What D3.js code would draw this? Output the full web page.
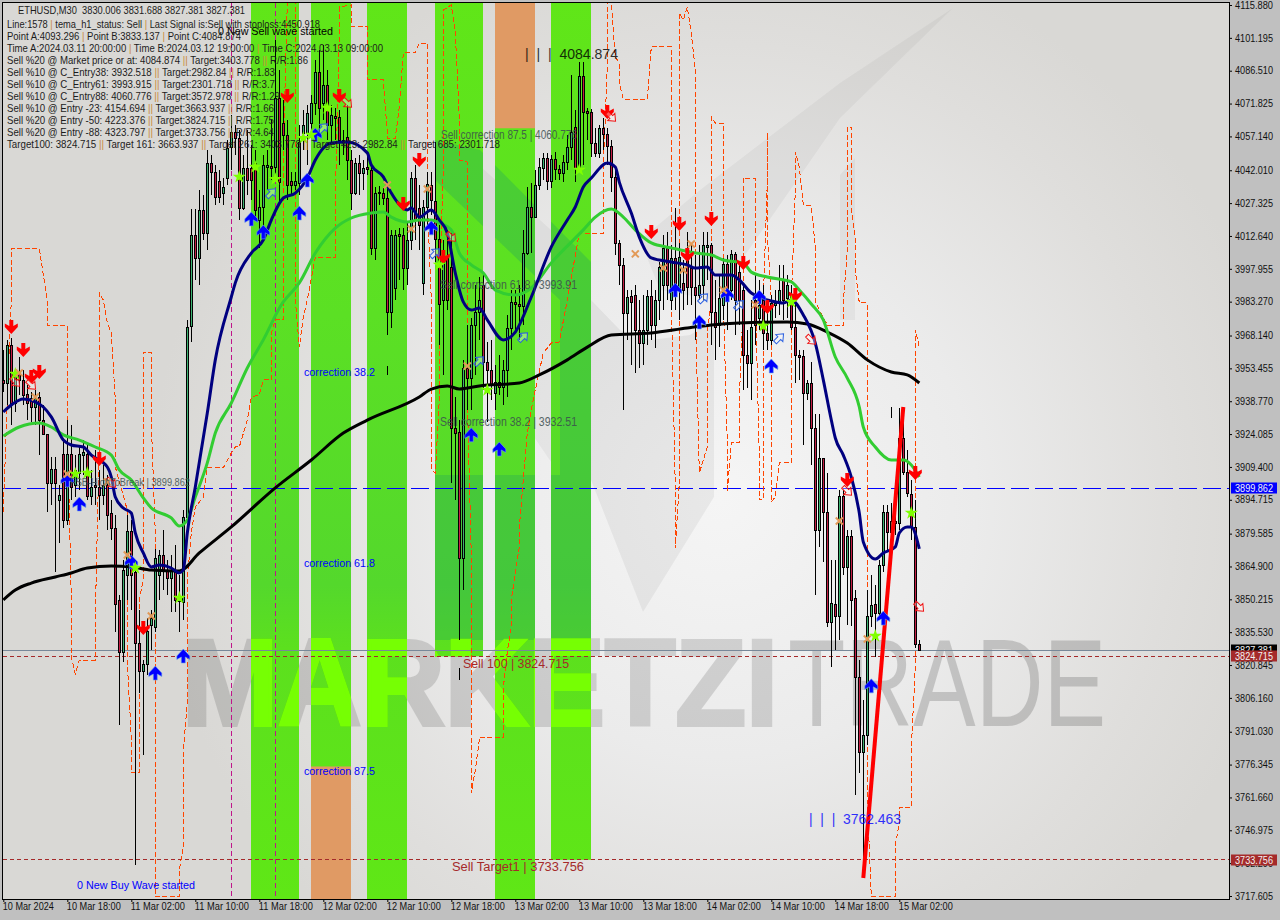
<!DOCTYPE html>
<html>
<head>
<meta charset="utf-8">
<title>ETHUSD,M30</title>
<script src="https://d3js.org/d3.v7.min.js"></script>
<style>
  html, body { margin: 0; background: #c0c0c0; }
  svg { display: block; }
  text { font-family: "Liberation Sans", Arial, sans-serif; }
  .tick line { stroke: #000; }
  .tick text { fill: #111; font-size: 10px; }
</style>
</head>
<body>
<svg id="chart" width="1280" height="920"></svg>
<script>
// candle values, bar by bar
const bodyHigh = [
  3947.5,3963.0,3963.0,3949.7,3951.0,3947.5,3941.2,3939.4,3939.4,3939.9,
  3929.6,3923.4,3907.8,3907.8,3896.2,3914.5,3914.5,3914.5,3907.4,3914.5,
  3915.4,3914.5,3899.8,3900.7,3899.8,3900.7,3900.7,3888.2,3881.5,3849.5,
  3862.8,3880.2,3880.2,3861.9,3830.3,3820.9,3835.7,3841.4,3868.2,3869.5,
  3869.5,3862.8,3862.8,3861.9,3850.4,3886.4,3971.1,4012.0,4012.0,4023.2,
  4023.2,4044.1,4044.1,4040.1,4036.1,4033.4,4050.8,4057.9,4057.9,4055.2,
  4041.9,4041.9,4041.9,4044.1,4024.5,4043.2,4043.2,4042.8,4073.1,4073.1,
  4061.9,4056.6,4036.1,4036.1,4053.4,4061.0,4066.4,4070.8,4084.6,4084.6,
  4078.8,4078.8,4065.5,4065.0,4064.6,4054.3,4055.7,4045.4,4044.1,4044.1,
  4041.9,4042.3,4041.0,4030.7,4031.2,4030.7,4028.5,4012.0,4012.0,4012.5,
  4012.0,4009.8,4037.4,4037.4,4024.1,4024.5,4034.7,4034.3,4027.2,4010.2,
  4000.0,4001.8,3997.8,3926.1,3924.3,3952.8,3952.8,3971.9,3977.7,3983.1,
  3989.8,3955.5,3951.9,3946.6,3946.6,3951.9,3970.6,3982.2,3982.2,3981.3,
  4004.0,4024.5,4024.5,4034.3,4042.3,4046.3,4046.3,4045.9,4045.9,4041.4,
  4044.5,4051.2,4057.9,4060.1,4082.9,4082.9,4067.3,4066.8,4053.0,4059.7,
  4059.7,4057.0,4051.7,4037.9,4008.5,3998.7,3984.4,3984.9,3985.3,3969.7,
  3969.7,3984.9,3984.9,3983.1,3997.8,4006.3,4006.3,4001.8,4001.8,4002.2,
  3990.6,4002.2,3997.3,3988.9,3989.8,4007.6,4007.6,4007.6,3977.7,3984.0,
  3999.1,3999.1,4003.6,4003.6,3995.5,3987.5,3958.6,3971.1,3983.1,3980.9,
  3983.1,3968.4,3981.8,3981.8,3987.5,3992.0,3989.8,3985.3,3971.1,3958.6,
  3958.1,3946.1,3946.1,3926.1,3912.7,3912.7,3888.6,3848.1,3847.7,3895.8,
  3895.8,3877.9,3877.9,3850.4,3815.2,3789.3,3842.3,3847.2,3847.7,3865.0,
  3888.6,3888.6,3884.6,3884.6,3921.6,3921.6,3906.5,3896.7,3882.0,3830.0
];
const bodyLow = [
  3946.2,3946.2,3937.2,3937.2,3947.5,3940.8,3937.2,3935.4,3935.4,3929.6,
  3923.4,3901.6,3901.6,3901.6,3894.0,3885.1,3885.1,3899.8,3900.7,3906.0,
  3914.0,3895.8,3895.8,3899.8,3896.2,3896.2,3887.3,3881.5,3847.7,3826.3,
  3826.3,3860.6,3860.6,3830.3,3817.8,3817.8,3820.9,3838.3,3837.4,3860.6,
  3862.8,3859.3,3859.3,3849.5,3849.0,3848.6,3886.4,3971.5,4001.8,4001.8,
  4012.9,4012.9,4040.1,4029.0,4029.0,4030.7,4037.4,4051.2,4055.2,4024.1,
  4024.1,4036.5,4036.5,4023.2,4018.7,4024.5,4042.3,4041.9,4042.3,4035.6,
  4056.6,4034.3,4034.3,4034.3,4035.2,4057.5,4057.5,4061.9,4070.8,4068.6,
  4070.8,4061.0,4061.0,4064.1,4054.3,4053.4,4045.4,4030.7,4030.7,4039.6,
  4039.6,4041.4,4006.3,4006.3,4030.7,4028.5,3977.7,3977.7,3988.4,4011.6,
  3997.3,3997.3,4009.8,4018.7,4016.5,3990.6,4024.5,4027.6,4010.2,3981.3,
  3983.1,3983.1,3926.1,3923.9,3868.2,3868.2,3948.3,3948.3,3971.9,3977.7,
  3955.5,3951.9,3945.2,3941.7,3944.3,3944.3,3951.9,3970.6,3981.3,3980.4,
  3980.4,4004.0,4020.0,4020.0,4034.3,4041.9,4036.1,4036.1,4041.4,4039.6,
  4039.6,4044.5,4051.2,4041.9,4042.3,4066.8,4066.4,4053.0,4048.6,4048.6,
  4057.0,4051.7,4037.9,4008.5,3998.7,3977.3,3977.3,3982.2,3969.7,3963.9,
  3963.9,3969.7,3971.9,3971.9,3983.1,3989.8,3989.8,3983.1,3989.8,3988.4,
  3987.5,3988.9,3988.9,3985.3,3985.3,3989.8,4006.7,3977.7,3971.1,3972.0,
  3980.9,3983.1,3987.5,3983.1,3983.1,3958.6,3955.0,3955.0,3971.9,3975.1,
  3968.4,3965.3,3965.3,3980.9,3982.2,3983.1,3984.0,3971.1,3958.6,3957.7,
  3941.7,3941.7,3926.1,3880.6,3880.6,3888.6,3839.7,3839.7,3842.3,3842.3,
  3864.2,3864.2,3849.5,3815.2,3781.7,3781.7,3789.3,3842.3,3843.7,3843.7,
  3865.0,3879.7,3879.7,3883.7,3883.7,3906.5,3897.1,3882.0,3830.0,3827.4
];
const wickHigh = [
  3960.8,3965.3,3966.2,3951.9,3957.7,3951.9,3945.2,3942.1,3943.0,3942.1,
  3936.3,3923.4,3913.1,3913.1,3900.7,3920.7,3929.6,3927.4,3914.0,3918.5,
  3920.7,3918.5,3907.4,3916.3,3907.4,3909.6,3905.1,3894.0,3887.3,3851.7,
  3867.3,3887.3,3885.1,3865.0,3845.0,3822.7,3841.4,3845.0,3872.2,3871.7,
  3880.6,3867.3,3869.5,3874.0,3860.6,3889.5,3974.2,4023.6,4023.6,4032.1,
  4029.9,4049.9,4047.7,4043.2,4041.0,4037.4,4054.3,4065.5,4061.0,4058.8,
  4047.7,4058.8,4052.1,4049.9,4032.1,4047.7,4049.9,4063.3,4098.9,4085.5,
  4072.2,4063.3,4040.1,4040.1,4061.0,4067.7,4069.9,4074.4,4090.0,4094.4,
  4096.7,4085.5,4069.9,4068.6,4067.7,4058.8,4069.9,4049.9,4046.3,4047.7,
  4045.4,4047.7,4043.2,4033.4,4033.9,4032.9,4032.9,4014.3,4014.3,4015.2,
  4015.2,4017.8,4040.1,4043.2,4034.3,4027.6,4040.1,4040.1,4053.4,4016.5,
  4009.8,4014.3,4012.9,3939.9,3929.6,3956.4,3971.9,3975.1,3989.8,3993.3,
  3994.2,3964.4,3965.3,3954.1,3958.6,3956.4,3976.4,3987.5,3987.5,3989.8,
  4014.3,4033.4,4035.2,4041.0,4046.3,4048.6,4048.6,4047.7,4049.0,4043.2,
  4047.7,4056.6,4083.3,4067.7,4089.1,4089.1,4068.6,4068.1,4059.7,4061.0,
  4064.1,4059.7,4054.3,4041.0,4009.8,4001.8,3987.5,3987.5,3989.8,3983.1,
  3985.3,3987.5,3992.0,3987.5,4000.0,4012.0,4013.4,4007.6,4024.1,4008.5,
  4000.9,4013.4,4007.6,4003.1,4007.6,4013.4,4013.4,4008.5,3992.0,3994.2,
  4001.8,4003.1,4005.4,4004.5,3998.7,3989.8,3969.7,3983.1,3994.2,3992.0,
  3989.8,3983.1,3985.3,3987.5,3998.7,3998.7,3994.2,3989.8,3983.1,3960.8,
  3960.8,3947.5,3955.5,3932.3,3932.3,3912.7,3906.0,3867.3,3867.3,3898.5,
  3898.5,3880.6,3880.6,3853.9,3822.7,3804.9,3853.9,3860.6,3856.1,3867.3,
  3891.8,3891.8,3892.7,3892.7,3935.0,3935.4,3916.3,3902.9,3894.0,3831.7
];
const wickLow = [
  3942.1,3936.3,3927.4,3933.2,3940.8,3936.3,3929.6,3928.7,3927.4,3914.0,
  3923.0,3888.6,3891.8,3861.9,3874.8,3881.5,3882.9,3894.0,3895.3,3898.5,
  3905.1,3894.0,3891.8,3891.8,3885.1,3891.8,3880.6,3876.2,3835.2,3793.8,
  3821.8,3849.5,3845.0,3731.4,3808.0,3780.4,3816.1,3827.2,3835.2,3849.5,
  3853.9,3851.7,3844.1,3844.1,3835.2,3840.5,3885.1,3964.4,3992.0,3989.8,
  4009.8,4005.4,4029.9,4025.4,4026.3,4025.4,4034.3,4041.0,4047.7,4018.7,
  4023.2,4029.9,4027.6,4018.7,4006.3,4013.4,4032.1,4036.5,4036.5,4025.4,
  4049.9,4027.6,4029.9,4032.1,4029.9,4049.9,4043.2,4056.6,4065.5,4056.6,
  4063.3,4054.3,4052.1,4054.3,4043.2,4047.7,4036.5,4023.2,4029.9,4029.9,
  4032.1,4038.7,4003.1,4000.9,4025.4,4025.4,3967.5,3970.6,3983.1,3992.0,
  3987.5,3989.8,4005.4,4009.8,4005.4,3985.3,4016.5,4020.9,4000.0,3963.0,
  3949.7,3978.6,3901.6,3894.0,3831.6,3853.9,3934.1,3934.1,3949.7,3965.3,
  3943.0,3928.7,3938.5,3934.1,3940.8,3936.3,3939.9,3960.8,3969.7,3965.3,
  3971.9,4003.1,4004.0,4019.6,4032.1,4036.5,4032.1,4032.9,4036.5,4036.5,
  4035.6,4041.0,4045.4,4035.6,4041.0,4043.2,4054.3,4046.8,4046.8,4046.3,
  4049.9,4043.2,4031.2,4003.1,3989.8,3934.1,3965.3,3954.1,3950.6,3952.8,
  3954.1,3963.0,3965.3,3961.7,3974.2,3978.6,3983.1,3978.6,3978.6,3974.2,
  3978.6,3980.9,3980.9,3965.3,3983.1,3983.1,3992.0,3963.0,3956.4,3962.1,
  3974.2,3969.7,3983.1,3967.5,3971.9,3943.0,3943.9,3938.5,3963.0,3969.7,
  3960.8,3960.8,3963.0,3975.1,3976.4,3974.2,3975.1,3969.7,3946.1,3947.5,
  3918.5,3938.5,3909.6,3851.7,3873.1,3866.4,3837.4,3819.6,3827.2,3831.6,
  3860.6,3838.3,3837.9,3762.6,3772.4,3725.6,3784.9,3837.4,3824.1,3840.5,
  3861.9,3871.7,3873.9,3878.4,3880.6,3905.1,3895.3,3876.2,3828.1,3827.4
];
const candleDir = (
  "RGRGRRRRGR" + "RRGRGRGRGG" + "GRGRRGRRRR" + "GGRRRGGGGG" + "RRGRGGGGRG" +
  "RGRRRGGGRR" + "GRRRGGGRGR" + "RRRGGGGGGR" + "GRGRRRRRGR" + "GRRGGRRGGR" +
  "RGGRRGGRRR" + "GRRRRGRGGG" + "RRRGRGGGRR" + "GGRGGGRGRR" + "GGGRGRRRRG" +
  "RRRRRRGRRR" + "GGRGGGRGRG" + "RRRRGGGRRG" + "GRGRRRRGRG" + "RRGGGRGRRR" +
  "RGRRGRRGRG" + "RGRRRGGGRG" + "GRGRGRRRRR").split("");

// indicator lines
const navyBar = [0,2,5,8,10,12,15,17,20,22,26,27,28,30,32,33,35,37,39,42,44,45,46,48,51,53,57,58,62,65,67,70,73,76,78,82,86,91,92,95,97,101,102,104,107,109,111,113,115,117,119,121,125,128,132,137,141,143,145,147,151,153,154,157,159,162,167,171,173,176,178,182,184,187,189,192,195,197,200,203,205,207,208,210,212,214,215,218,220,223,224,226,227,229];
const navyPrice = [3933.2,3936.3,3939.0,3937.7,3935.4,3931.0,3920.7,3918.5,3917.6,3914.0,3908.7,3904.2,3895.3,3890.4,3888.2,3879.3,3870.4,3864.2,3865.0,3863.7,3861.5,3862.8,3879.3,3899.8,3932.7,3956.4,3984.4,3990.7,4004.0,4009.8,4018.7,4028.5,4030.7,4037.4,4045.4,4053.0,4053.4,4048.6,4043.2,4037.9,4030.7,4023.2,4024.1,4020.0,4023.2,4018.7,4012.9,3995.1,3982.2,3978.6,3979.5,3974.2,3965.3,3968.8,3984.4,4006.7,4018.7,4024.5,4033.4,4037.4,4044.1,4042.3,4035.6,4021.8,4011.1,4001.8,4000.0,3998.7,3997.3,3997.8,3994.2,3994.2,3992.0,3986.2,3984.4,3982.6,3981.7,3983.1,3976.4,3963.9,3947.5,3929.6,3921.6,3914.0,3904.2,3888.2,3875.3,3867.7,3870.4,3873.1,3879.3,3882.0,3882.0,3872.2];
const greenBar = [0,4,9,12,15,19,23,27,29,32,35,37,42,44,46,48,51,53,57,61,65,70,71,74,78,83,87,92,95,97,101,104,107,109,112,114,117,120,123,128,132,137,145,148,152,155,158,162,167,173,177,180,185,187,191,197,199,202,205,208,211,214,215,218,222,225,227,229];
const greenPrice = [3922.5,3926.5,3928.3,3926.5,3923.0,3920.7,3917.6,3914.0,3907.4,3902.9,3894.9,3890.4,3886.0,3882.4,3885.1,3895.3,3910.5,3923.8,3937.2,3952.8,3965.3,3982.2,3984.4,3990.7,4004.0,4015.1,4019.6,4021.8,4022.3,4020.0,4017.8,4018.7,4018.7,4017.4,4014.3,4004.0,3998.7,3995.1,3987.5,3985.3,3988.4,3999.6,4014.3,4020.0,4023.6,4020.0,4014.3,4008.5,4006.3,4004.0,4003.1,4000.9,3999.6,3995.5,3993.3,3991.1,3987.5,3981.3,3974.2,3957.7,3948.3,3935.4,3926.5,3917.6,3911.8,3911.8,3909.6,3904.2];
const blackBar = [0,3,7,13,17,21,27,32,37,44,49,57,68,77,85,91,104,107,111,114,119,129,134,141,146,152,162,171,177,184,196,201,206,211,216,222,226,229];
const blackPrice = [3849.5,3853.9,3857.0,3859.7,3861.5,3863.7,3864.6,3864.2,3862.8,3862.4,3870.4,3882.0,3899.4,3911.8,3923.8,3929.6,3939.9,3943.4,3944.8,3943.4,3944.8,3946.1,3949.7,3956.4,3962.1,3967.5,3968.4,3970.6,3971.9,3972.8,3973.3,3972.4,3968.8,3963.9,3956.4,3951.0,3949.7,3946.1];
const orangeBar = [0,1,2,2,2,9,10,11,11,16,16,17,17,18,18,19,23,23,24,24,24,25,26,27,28,28,31,31,32,32,34,34,34,35,35,35,37,37,38,38,38,44,44,45,45,45,45,46,46,46,46,47,48,50,51,55,57,58,59,61,62,64,65,67,67,68,70,70,70,71,73,73,74,75,76,78,83,83,84,84,87,87,87,91,91,95,96,96,98,99,100,103,104,106,106,106,107,107,108,109,109,110,110,112,113,114,114,116,116,116,117,117,117,118,119,119,125,125,125,126,127,127,129,129,131,132,133,135,137,139,141,144,150,150,151,151,152,153,154,154,155,161,162,167,167,167,168,168,169,169,169,169,169,170,171,172,173,173,173,174,176,176,177,177,177,178,180,180,180,181,181,182,184,184,185,185,185,188,188,189,189,190,190,190,191,191,191,192,192,192,193,194,197,197,197,198,198,199,200,202,203,203,203,206,210,210,211,211,211,212,212,213,213,214,216,216,216,216,216,217,223,223,223,224,224,227,227,228,228,228,228,229];
const orangePrice = [3888.7,3938.5,3983.1,3993.3,4006.2,4006.2,3994.2,3983.1,3971.9,3971.9,3928.3,3849.5,3824.1,3816.5,3816.5,3822.7,3822.7,3841.9,3920.7,3956.4,3986.2,3983.1,3972.8,3968.4,3938.5,3908.7,3889.5,3821.4,3788.4,3772.4,3772.4,3796.0,3849.5,3858.4,3879.3,3959.9,3959.9,3928.3,3879.3,3804.9,3717.2,3717.2,3729.2,3739.4,3748.4,3763.9,3782.6,3803.6,3824.1,3849.5,3858.4,3879.3,3890.9,3895.3,3908.3,3908.3,3914.9,3917.6,3917.6,3929.6,3939.9,3940.8,3947.5,3947.5,3968.4,3974.2,3974.2,3983.1,4049.9,4115.4,4115.4,3983.1,3962.1,3975.5,3983.1,4002.2,4002.2,4027.6,4102.0,4113.6,4114.5,4107.8,4104.7,4104.7,4081.1,4081.1,4057.5,4055.2,4055.2,4069.0,4093.1,4093.1,4097.5,4097.5,4073.5,4027.6,3983.1,3907.4,3906.0,3938.5,3983.1,4042.3,4112.2,4114.5,4102.0,4064.6,4045.4,4044.5,3983.1,3939.9,3868.6,3849.5,3763.5,3773.7,3787.1,3788.4,3788.4,3794.7,3810.3,3826.3,3837.4,3849.5,3873.1,3882.0,3923.8,3934.1,3943.0,3959.5,3963.9,3964.4,3983.1,4012.9,4012.9,4042.3,4086.9,4115.4,4115.4,4091.3,4088.6,4079.7,4072.6,4072.6,4095.8,4095.8,4012.9,3983.1,3899.8,3872.6,3901.6,3938.5,3983.1,4079.7,4110.9,4107.8,4113.6,4102.0,4085.5,4015.6,3983.1,3906.0,3917.6,3968.4,3983.1,4046.8,4064.6,4061.9,4061.9,4036.5,3983.1,3919.4,3897.6,3919.4,3919.4,3938.5,3983.1,4023.2,4037.4,4037.4,3986.2,3913.2,3894.0,3894.0,3914.9,3983.1,4035.6,4057.5,4012.9,3983.1,3913.2,3893.1,3895.3,3910.5,3910.5,3938.5,3983.1,4032.1,4049.0,4042.3,4025.4,4025.0,4006.7,3986.2,3982.2,3971.9,3971.5,3981.8,4005.4,4027.6,4060.1,4060.1,4024.5,4009.8,3996.4,3981.8,3981.8,3956.4,3923.8,3850.8,3760.4,3717.2,3717.2,3727.9,3740.3,3750.1,3757.2,3757.2,3783.5,3819.6,3849.5,3943.0,3969.7,3962.1];
const waveBar = [215,225];
const wavePrice = [3725.6,3935.4];
// short stray marks left by hidden labels: bar, top, bottom
const strayBar = [96,114,222];
const strayTop = [3953.6,3819.2,3935.4];
const strayBottom = [3949.7,3813.8,3930.5];

// signal markers
const sellBar = [2,5,7,9,24,35,71,84,100,104,110,151,162,169,171,177,185,191,198,211,228];
const sellPrice = [3971.1,3960.8,3948.8,3951.0,3912.3,3837.0,4073.9,4073.9,4025.8,4045.4,4002.2,4066.8,4013.4,4016.9,4003.1,4019.2,3999.6,3979.9,3985.3,3902.9,3906.0];
const buyBar = [16,19,32,38,45,62,65,74,76,78,107,117,124,168,174,181,189,192,217,220];
const buyPrice = [3902.9,3892.2,3866.4,3816.9,3824.5,4019.2,4013.4,4021.8,4036.5,4056.6,4015.2,3923.0,3916.7,3987.5,3973.3,3985.3,3984.4,3953.7,3811.2,3841.4];
const starBar = [3,18,21,33,44,59,63,68,75,77,81,109,144,121,190,197,218,227];
const starPrice = [3950.1,3905.6,3906.0,3863.7,3850.4,4037.9,4042.3,4036.9,4055.2,4056.6,4068.6,3998.7,4041.0,3943.0,3971.5,3982.2,3833.4,3888.2];
const crossBar = [4,8,16,26,31,37,96,102,106,116,158,165,170,172,180,188,209,216];
const crossPrice = [3950.6,3939.9,3905.6,3902.0,3869.5,3842.3,4034.3,4014.7,4032.5,3953.7,4003.6,3997.3,3996.4,4008.0,3987.5,3980.9,3884.6,3832.1];
const hollowUpBar = [67,80,108,119,130,175,184,194];
const hollowUpPrice = [4030.7,4059.7,4004.0,3955.9,3966.6,3983.9,3980.9,3966.1];
const hollowDownBar = [3,7,27,86,112,152,202,211,229];
const hollowDownPrice = [3946.6,3945.2,3901.6,4070.8,4011.1,4064.6,3965.3,3898.0,3846.3];

// shaded correction zones
const zoneStart = [62,77,91,108,123,137];
const zoneEnd = [74,87,101,120,133,147];
const zoneBottom = [3700,3700,3700,3824.715,3700,3733.756];
const orangeStart = [77,123];
const orangeEnd = [87,133];
const orangeTop = [3775.5,4130];
const orangeBottom = [3700,4060.776];

// levels and scales labels
const priceTicks = [4115.88,4101.195,4086.51,4071.825,4057.14,4042.01,4027.325,4012.64,3997.955,3983.27,3968.14,3953.455,3938.77,3924.085,3909.4,3894.715,3879.585,3864.9,3850.215,3835.53,3820.845,3806.16,3791.03,3776.345,3761.66,3746.975,3732.29,3717.605];
const timeBars = [0,16,32,48,64,80,96,112,128,144,160,176,192,208,224];
const timeLabels = ["10 Mar 2024","10 Mar 18:00","11 Mar 02:00","11 Mar 10:00","11 Mar 18:00","12 Mar 02:00","12 Mar 10:00","12 Mar 18:00","13 Mar 02:00","13 Mar 10:00","13 Mar 18:00","14 Mar 02:00","14 Mar 10:00","14 Mar 18:00","15 Mar 02:00"];
const timeLineBars = [57,68];

const infoLines = [
  "Line:1578 | tema_h1_status: Sell | Last Signal is:Sell with stoploss:4450.918",
  "Point A:4093.296 | Point B:3833.137 | Point C:4084.874",
  "Time A:2024.03.11 20:00:00 | Time B:2024.03.12 19:00:00 | Time C:2024.03.13 09:00:00",
  "Sell %20 @ Market price or at: 4084.874 || Target:3403.778 || R/R:1.86",
  "Sell %10 @ C_Entry38: 3932.518 || Target:2982.84 || R/R:1.83",
  "Sell %10 @ C_Entry61: 3993.915 || Target:2301.718 || R/R:3.7",
  "Sell %10 @ C_Entry88: 4060.776 || Target:3572.978 || R/R:1.29",
  "Sell %10 @ Entry -23: 4154.694 || Target:3663.937 || R/R:1.66",
  "Sell %20 @ Entry -50: 4223.376 || Target:3824.715 || R/R:1.75",
  "Sell %20 @ Entry -88: 4323.797 || Target:3733.756 || R/R:4.64",
  "Target100: 3824.715 || Target 161: 3663.937 || Target 261: 3403.778 || Target 423: 2982.84 || Target 685: 2301.718"
];
const infoWidths = [313,234,376,301,268,268,273,267,267,267,493];

const width = 1280, height = 920;
const plot = { left: 3, right: 1229, top: 3, bottom: 899 };
const svg = d3.select("#chart");
const defs = svg.append("defs");

const x = d3.scaleLinear().domain([0, 229]).range([3.3, 919.3]);
// candles and indicators
const y = d3.scaleLinear().domain([3717.6, 4116.7]).range([896, 0]);
// axis and price levels
const yTick = d3.scaleLinear().domain([3717.605, 4115.88]).range([896, 5]);

const snap = v => Math.floor(v) + 0.5;

// backdrop gradients
const bgGrad = defs.append("radialGradient").attr("id", "bg")
  .attr("gradientUnits", "userSpaceOnUse").attr("cx", 720).attr("cy", 500).attr("r", 570);
[[0, "#f5f5f5"], [0.45, "#ebebeb"], [0.8, "#dfdedc"], [1, "#d9d8d5"]].forEach(s =>
  bgGrad.append("stop").attr("offset", s[0]).attr("stop-color", s[1]));
const zoneGrad = defs.append("linearGradient").attr("id", "zone")
  .attr("gradientUnits", "userSpaceOnUse").attr("x1", 0).attr("x2", 0).attr("y1", 0).attr("y2", 900);
[[0, "#60e618"], [0.35, "#5be024"], [0.65, "#54d82c"], [0.72, "#5ce01e"], [1, "#5fe716"]].forEach(s =>
  zoneGrad.append("stop").attr("offset", s[0]).attr("stop-color", s[1]));

defs.append("clipPath").attr("id", "plotClip").append("rect")
  .attr("x", plot.left).attr("y", plot.top)
  .attr("width", plot.right - plot.left).attr("height", plot.bottom - plot.top);
const zoneClip = defs.append("clipPath").attr("id", "zoneClip");
zoneClip.selectAll("rect").data(zoneStart).join("rect")
  .attr("x", (d) => x(d) - 0.3)
  .attr("width", (d, i) => x(zoneEnd[i]) - x(d))
  .attr("y", plot.top)
  .attr("height", (d, i) => yTick(zoneBottom[i]) - plot.top);

svg.append("rect").attr("width", width).attr("height", height).attr("fill", "#c0c0c0");

const chart = svg.append("g").attr("clip-path", "url(#plotClip)");
chart.append("rect")
  .attr("x", plot.left).attr("y", plot.top)
  .attr("width", plot.right - plot.left).attr("height", plot.bottom - plot.top)
  .attr("fill", "url(#bg)");

// logo behind everything
const logoShapes = [
  { pts: "591,300 591,480 643,612 714,497 714,320 690,335 650,340 620,330", o: 0.05 },
  { pts: "953,8 840,83 700,190 640,240 660,290 714,300 840,118", o: 0.04 },
  { pts: "440,130 590,265 591,300 591,480 560,475 440,300", o: 0.04 },
  { pts: "840,175 855,158 855,320 840,320", o: 0.04 }
];
chart.selectAll("polygon.logo").data(logoShapes).join("polygon")
  .attr("class", "logo")
  .attr("points", (d) => d.pts)
  .attr("fill", "#000")
  .attr("opacity", (d) => d.o);

// correction zones
chart.selectAll("rect.zone").data(zoneStart).join("rect")
  .attr("class", "zone")
  .attr("x", (d) => x(d) - 0.3)
  .attr("width", (d, i) => x(zoneEnd[i]) - x(d))
  .attr("y", plot.top)
  .attr("height", (d, i) => yTick(zoneBottom[i]) - plot.top)
  .attr("fill", "url(#zone)");
chart.append("polygon")
  .attr("points", "435,140 480,150 591,262 591,640 435,640 435,475 560,475 560,300 435,180")
  .attr("clip-path", "url(#zoneClip)")
  .attr("fill", "#2fb050")
  .attr("opacity", 0.42);
chart.selectAll("rect.orangeZone").data(orangeStart).join("rect")
  .attr("class", "orangeZone")
  .attr("x", (d) => x(d) - 0.3)
  .attr("width", (d, i) => x(orangeEnd[i]) - x(d))
  .attr("y", (d, i) => yTick(orangeTop[i]))
  .attr("height", (d, i) => yTick(orangeBottom[i]) - yTick(orangeTop[i]))
  .attr("fill", "#e09a64");

// watermark, grey on the backdrop and lime over the zones
function watermark(parent, fill, opBold, opThin) {
  parent.append("text").text("MARKETZI")
    .attr("x", 182).attr("y", 725)
    .attr("font-size", 123).attr("font-weight", "bold")
    .attr("textLength", 596).attr("lengthAdjust", "spacingAndGlyphs")
    .attr("fill", fill).attr("stroke", fill).attr("stroke-width", 4)
    .attr("opacity", opBold);
  parent.append("text").text("TRADE")
    .attr("x", 788).attr("y", 726)
    .attr("font-size", 125)
    .attr("textLength", 318).attr("lengthAdjust", "spacingAndGlyphs")
    .attr("fill", fill).attr("opacity", opThin);
}
watermark(chart.append("g"), "#000", 0.13, 0.16);
watermark(chart.append("g").attr("clip-path", "url(#zoneClip)"), "#76ff03", 1, 1);

// time markers
chart.selectAll("line.timeLine").data(timeLineBars).join("line")
  .attr("class", "timeLine")
  .attr("x1", (d) => snap(x(d))).attr("x2", (d) => snap(x(d)))
  .attr("y1", plot.top).attr("y2", plot.bottom)
  .attr("stroke", "#c0148a").attr("stroke-width", 1).attr("stroke-dasharray", "5,3")
  .attr("shape-rendering", "crispEdges");

// price levels
function level(price, color, dash) {
  chart.append("line")
    .attr("x1", plot.left).attr("x2", plot.right)
    .attr("y1", snap(yTick(price))).attr("y2", snap(yTick(price)))
    .attr("stroke", color).attr("stroke-dasharray", dash).attr("shape-rendering", "crispEdges");
}
level(3899.862, "#0000ff", "18,6");
level(3827.381, "#778899", null);
level(3824.715, "#a52a2a", "4,3");
level(3733.756, "#a52a2a", "4,3");

// stepped dashed indicator
const lineBy = d3.line().x((d) => x(d[0])).y((d) => y(d[1]));
chart.append("path")
  .attr("d", lineBy(d3.zip(orangeBar, orangePrice)))
  .attr("fill", "none").attr("stroke", "#ff4500")
  .attr("stroke-width", 1).attr("stroke-dasharray", "5,2.5")
  .attr("shape-rendering", "crispEdges");

// candles
const candles = chart.append("g").attr("shape-rendering", "crispEdges");
candles.selectAll("line").data(candleDir).join("line")
  .attr("x1", (d, i) => snap(x(i))).attr("x2", (d, i) => snap(x(i)))
  .attr("y1", (d, i) => y(wickHigh[i])).attr("y2", (d, i) => y(wickLow[i]))
  .attr("stroke", "#000");
candles.selectAll("rect").data(candleDir).join("rect")
  .attr("x", (d, i) => snap(x(i)) - 1)
  .attr("width", 2)
  .attr("y", (d, i) => Math.round(y(bodyHigh[i])) + 0.5)
  .attr("height", (d, i) => Math.max(1, Math.round(y(bodyLow[i]) - y(bodyHigh[i]))))
  .attr("fill", (d) => (d === "G" ? "#3cb371" : "#c41e45"))
  .attr("stroke", "#000");
candles.selectAll("line.stray").data(strayBar).join("line")
  .attr("class", "stray")
  .attr("x1", (d) => snap(x(d))).attr("x2", (d) => snap(x(d)))
  .attr("y1", (d, i) => y(strayTop[i])).attr("y2", (d, i) => y(strayBottom[i]))
  .attr("stroke", "#000");

// moving averages
const maBy = d3.line().curve(d3.curveMonotoneX).x((d) => x(d[0])).y((d) => y(d[1]));
function maLine(bars, prices, color) {
  chart.append("path")
    .attr("d", maBy(d3.zip(bars, prices)))
    .attr("fill", "none").attr("stroke", color)
    .attr("stroke-width", 3).attr("stroke-linejoin", "round");
}
maLine(blackBar, blackPrice, "#000000");
maLine(greenBar, greenPrice, "#32cd32");
maLine(navyBar, navyPrice, "#000080");

chart.append("path")
  .attr("d", lineBy(d3.zip(waveBar, wavePrice)))
  .attr("stroke", "#ff0000").attr("stroke-width", 4).attr("fill", "none");

// markers
const arrowDown = "M-2,-7 L2,-7 L2,-1 L6.5,-3.5 L6.5,0 L0,7 L-6.5,0 L-6.5,-3.5 L-2,-1 Z";
const hollowArrow = "M-2,6 L-2,0 L-5,0 L0,-6 L5,0 L2,0 L2,6 Z";
const markers = chart.append("g");

markers.selectAll("path.sell").data(sellBar).join("path")
  .attr("class", "sell").attr("d", arrowDown).attr("fill", "#ff0000")
  .attr("transform", (d, i) => `translate(${x(d)},${y(sellPrice[i])})`);
markers.selectAll("path.buy").data(buyBar).join("path")
  .attr("class", "buy").attr("d", arrowDown).attr("fill", "#0000ff")
  .attr("stroke", "#6fa8e8").attr("stroke-width", 0.6)
  .attr("transform", (d, i) => `translate(${x(d)},${y(buyPrice[i])}) rotate(180)`);
markers.selectAll("path.hollowUp").data(hollowUpBar).join("path")
  .attr("class", "hollowUp").attr("d", hollowArrow).attr("fill", "rgba(255,255,255,0.35)")
  .attr("stroke", "#2a5fe0")
  .attr("transform", (d, i) => `translate(${x(d)},${y(hollowUpPrice[i])}) rotate(45)`);
markers.selectAll("path.hollowDown").data(hollowDownBar).join("path")
  .attr("class", "hollowDown").attr("d", hollowArrow).attr("fill", "rgba(255,255,255,0.35)")
  .attr("stroke", "#f01010")
  .attr("transform", (d, i) => `translate(${x(d)},${y(hollowDownPrice[i])}) rotate(135)`);
markers.selectAll("path.star").data(starBar).join("path")
  .attr("class", "star").attr("d", d3.symbol(d3.symbolStar, 55)).attr("fill", "#7fff00")
  .attr("transform", (d, i) => `translate(${x(d)},${y(starPrice[i])})`);
markers.selectAll("path.cross").data(crossBar).join("path")
  .attr("class", "cross").attr("d", "M-3.5,-3.5 L3.5,3.5 M-3.5,3.5 L3.5,-3.5")
  .attr("stroke", "#e29a58").attr("stroke-width", 2).attr("fill", "none")
  .attr("transform", (d, i) => `translate(${x(d)},${y(crossPrice[i])})`);

// labels on the chart
function label(text, left, mid, w, size, color, opacity) {
  chart.append("text").text(text)
    .attr("x", left).attr("y", mid + size * 0.36)
    .attr("font-size", size)
    .attr("textLength", w).attr("lengthAdjust", "spacingAndGlyphs")
    .attr("fill", color).attr("opacity", opacity || 1);
}
label("Sell correction 87.5 | 4060.776", 441, 135, 136, 12, "#3c4f50", 0.85);
label("Sell correction 61.8 | 3993.91", 440, 285, 137, 12, "#3c4f50", 0.85);
label("Sell correction 38.2 | 3932.51", 440, 422, 137, 12, "#3c4f50", 0.85);
label("FSB-HighToBreak | 3899.862", 70, 482, 120, 10.5, "#3c4f50", 0.85);
label("correction 38.2", 304, 372, 71, 11, "#0000ff");
label("correction 61.8", 304, 563, 71, 11, "#0000ff");
label("correction 87.5", 304, 771, 71, 11, "#0000ff");
label("Sell 100 | 3824.715", 463, 664, 106, 12, "#a52a2a");
label("Sell Target1 | 3733.756", 452, 867, 132, 12, "#a52a2a");
label("0 New Buy Wave started", 77, 885, 118, 11.5, "#0000ff");
label("0 New Sell wave started", 218, 31, 115, 11.5, "#000");
label("|\u00a0\u00a0|\u00a0\u00a0|\u00a0\u00a04084.874", 525, 53, 93, 15.5, "#000", 0.8);
label("|\u00a0\u00a0|\u00a0\u00a0|\u00a0\u00a03762.463", 809, 818, 92, 15.5, "#0000ff", 0.8);

// text block, top left
const info = svg.append("g").attr("font-size", 10.5).attr("fill", "#1c1c1c");
info.append("text").text("ETHUSD,M30  3830.006 3831.688 3827.381 3827.381")
  .attr("x", 18).attr("y", 14).attr("xml:space", "preserve")
  .attr("textLength", 227).attr("lengthAdjust", "spacingAndGlyphs");
info.selectAll("text.info").data(infoLines).join("text")
  .attr("class", "info")
  .attr("x", 7)
  .attr("y", (d, i) => 27.5 + i * 12)
  .attr("textLength", (d, i) => infoWidths[i])
  .attr("lengthAdjust", "spacingAndGlyphs")
  .each(function (d) {
    const t = d3.select(this);
    d.split(/(\|+)/).forEach((part) => {
      t.append("tspan").text(part)
        .attr("fill", part.startsWith("|") ? "#c98a3a" : null);
    });
  });

// frame and axes
svg.append("rect")
  .attr("x", plot.left - 0.5).attr("y", plot.top - 0.5)
  .attr("width", plot.right - plot.left + 0.5).attr("height", plot.bottom - plot.top + 0.5)
  .attr("fill", "none").attr("stroke", "#000").attr("shape-rendering", "crispEdges");

const yAxis = svg.append("g")
  .attr("transform", `translate(${plot.right},0)`)
  .call(d3.axisRight(yTick).tickValues(priceTicks).tickFormat(d3.format(".3f")).tickSize(3));
yAxis.select(".domain").remove();
yAxis.selectAll("text")
  .attr("x", 6)
  .attr("textLength", 38).attr("lengthAdjust", "spacingAndGlyphs")
  .attr("font-family", "Liberation Sans").attr("font-size", 10);

const xAxis = svg.append("g")
  .attr("transform", `translate(0,${plot.bottom})`)
  .call(d3.axisBottom(x).tickValues(timeBars).tickFormat((d, i) => timeLabels[i]).tickSize(3));
xAxis.select(".domain").remove();
xAxis.selectAll("text")
  .attr("text-anchor", "start")
  .attr("dx", -1).attr("y", 4)
  .attr("textLength", (d, i) => (i === 0 ? 51 : 54)).attr("lengthAdjust", "spacingAndGlyphs")
  .attr("font-family", "Liberation Sans").attr("font-size", 10);

// price boxes on the axis
function priceBox(price, color) {
  const g = svg.append("g");
  g.append("rect")
    .attr("x", 1231).attr("width", 46)
    .attr("y", Math.round(yTick(price)) - 5.5).attr("height", 11)
    .attr("fill", color);
  g.append("text").text(d3.format(".3f")(price))
    .attr("x", 1235).attr("y", Math.round(yTick(price)) + 4)
    .attr("font-size", 10).attr("fill", "#f2f2f2")
    .attr("textLength", 38).attr("lengthAdjust", "spacingAndGlyphs");
}
priceBox(3899.862, "#0000ff");
priceBox(3827.381, "#000000");
priceBox(3824.715, "#a52a2a");
priceBox(3733.756, "#a52a2a");
</script>
</body>
</html>
